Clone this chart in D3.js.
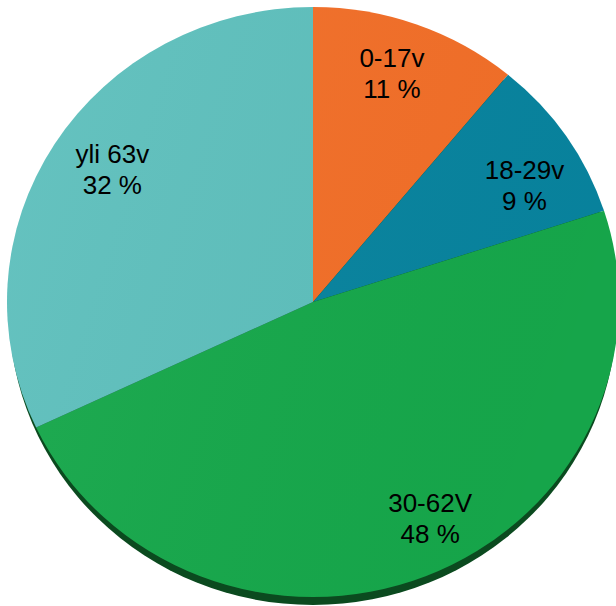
<!DOCTYPE html>
<html>
<head>
<meta charset="utf-8">
<script src="https://cdn.jsdelivr.net/npm/d3@7"></script>
<style>
  html, body { margin: 0; padding: 0; background: #fff; }
  svg { display: block; }
</style>
</head>
<body>
<div id="chart"></div>
<script>
const width = 616, height = 606;

const categories = ["0-17v", "18-29v", "30-62V", "yli 63v"];
const values = [11, 9, 48, 32];
const colors = ["#f36f28", "#08849f", "#16a84b", "#5ec0bd"];

// label nudges (px) relative to the slice centroid
const labelNudge = [[-4, -1], [9, 22], [27, 3], [6, -1]];

const cx = 313, cy = 302, rx = 306, ry = 295;

const svg = d3.select("#chart").append("svg")
    .attr("width", width)
    .attr("height", height);

const defs = svg.append("defs");
const grad = defs.append("linearGradient")
    .attr("id", "shade")
    .attr("x1", "0").attr("y1", "0").attr("x2", "1").attr("y2", "0.3");
grad.append("stop").attr("offset", "0").attr("stop-color", "#fff").attr("stop-opacity", 0.05);
grad.append("stop").attr("offset", "1").attr("stop-color", "#000").attr("stop-opacity", 0.02);

const pie = d3.pie().sort(null).value(d => d);
const arcs = pie(values);

// drawn as a circle, then squashed to an ellipse
const arc = d3.arc().innerRadius(0).outerRadius(rx);
const labelArc = d3.arc().innerRadius(rx * 0.8).outerRadius(rx * 0.8);

// pie edge / depth
svg.append("ellipse")
    .attr("cx", cx).attr("cy", cy + 8)
    .attr("rx", rx - 2).attr("ry", ry)
    .attr("fill", "#0b4a1f");

const g = svg.append("g")
    .attr("transform", `translate(${cx},${cy}) scale(1,${ry / rx})`);

g.selectAll("path.slice")
    .data(arcs)
    .join("path")
    .attr("class", "slice")
    .attr("d", arc)
    .attr("fill", (d, i) => colors[i]);

g.append("circle")
    .attr("r", rx)
    .attr("fill", "url(#shade)");

const labels = svg.append("g")
    .attr("font-family", "Liberation Sans, Arial, sans-serif")
    .attr("font-size", 26)
    .attr("fill", "#000")
    .attr("text-anchor", "middle");

labels.selectAll("text")
    .data(arcs)
    .join("text")
    .attr("transform", (d, i) => {
        const [x, y] = labelArc.centroid(d);
        return `translate(${cx + x + labelNudge[i][0]},${cy + y * ry / rx + labelNudge[i][1]})`;
    })
    .each(function(d, i) {
        const t = d3.select(this);
        t.append("tspan").attr("x", 0).attr("y", -12).text(categories[i]);
        t.append("tspan").attr("x", 0).attr("y", 19).text(values[i] + " %");
    });
</script>
</body>
</html>
